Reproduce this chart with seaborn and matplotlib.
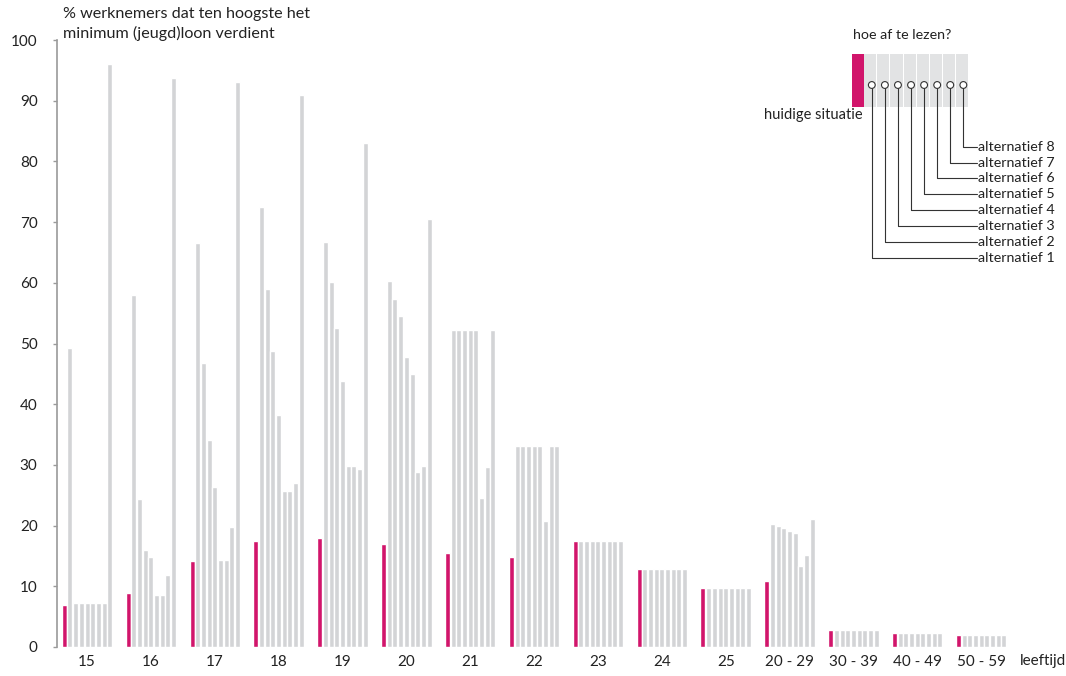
import matplotlib
matplotlib.use("Agg")
import matplotlib.pyplot as plt
from matplotlib.patches import Rectangle, Circle
import seaborn as sns
import pandas as pd

RED = "#D1156B"
GREY = "#D3D4D6"

groups = ["15", "16", "17", "18", "19", "20", "21", "22", "23", "24", "25",
          "20 - 29", "30 - 39", "40 - 49", "50 - 59"]

huidige_situatie = [7.0, 8.9, 14.1, 17.5, 18.0, 16.9, 15.5, 14.9, 17.4, 12.9, 9.7, 10.9, 2.8, 2.3, 2.0]
alternatief_1 = [49.2, 58.0, 66.5, 72.5, 66.7, 60.3, 52.3, 33.1, 17.4, 12.9, 9.7, 20.2, 2.8, 2.3, 2.0]
alternatief_2 = [7.2, 24.3, 46.8, 58.9, 60.2, 57.4, 52.3, 33.1, 17.4, 12.9, 9.7, 19.9, 2.8, 2.3, 2.0]
alternatief_3 = [7.2, 16.0, 34.1, 48.8, 52.6, 54.5, 52.3, 33.1, 17.4, 12.9, 9.7, 19.6, 2.8, 2.3, 2.0]
alternatief_4 = [7.2, 14.8, 26.3, 38.3, 43.8, 47.7, 52.3, 33.1, 17.4, 12.9, 9.7, 19.1, 2.8, 2.3, 2.0]
alternatief_5 = [7.2, 8.5, 14.4, 25.7, 29.8, 45.0, 52.3, 33.1, 17.4, 12.9, 9.7, 18.8, 2.8, 2.3, 2.0]
alternatief_6 = [7.2, 8.5, 14.4, 25.7, 29.8, 28.8, 24.6, 20.8, 17.4, 12.9, 9.7, 13.4, 2.8, 2.3, 2.0]
alternatief_7 = [7.2, 11.8, 19.7, 27.0, 29.3, 29.9, 29.6, 33.1, 17.4, 12.9, 9.7, 15.2, 2.8, 2.3, 2.0]
alternatief_8 = [96.0, 93.8, 93.0, 91.0, 83.0, 70.5, 52.3, 33.1, 17.4, 12.9, 9.7, 21.1, 2.8, 2.3, 2.0]


def main():
    series = {
        "huidige situatie": huidige_situatie,
        "alternatief 1": alternatief_1,
        "alternatief 2": alternatief_2,
        "alternatief 3": alternatief_3,
        "alternatief 4": alternatief_4,
        "alternatief 5": alternatief_5,
        "alternatief 6": alternatief_6,
        "alternatief 7": alternatief_7,
        "alternatief 8": alternatief_8,
    }
    rows = []
    for name, vals in series.items():
        for g, v in zip(groups, vals):
            rows.append({"leeftijd": g, "reeks": name, "pct": v})
    df = pd.DataFrame(rows)

    sns.set_theme(style="white")
    plt.rcParams["font.family"] = ["Lato", "DejaVu Sans"]
    txt = "#222222"

    fig = plt.figure(figsize=(10.66, 6.76), dpi=100)
    ax = fig.add_axes([57 / 1066, 29 / 676, 958 / 1066, 607 / 676])
    sns.barplot(data=df, x="leeftijd", y="pct", hue="reeks", order=groups,
                hue_order=list(series), palette=[RED] + [GREY] * 8,
                width=0.8, gap=0.12, saturation=1, errorbar=None,
                legend=False, ax=ax)

    ax.set_xlim(-0.47, 14.53)
    ax.set_ylim(0, 100)
    ax.set_yticks(range(0, 101, 10))
    ax.set_xlabel("")
    ax.set_ylabel("")
    sns.despine(ax=ax, bottom=True)
    ax.spines["left"].set_color("#9a9a9a")
    ax.spines["left"].set_linewidth(1.2)
    ax.tick_params(axis="y", left=True, length=3, width=1, color="#9a9a9a",
                   pad=11, labelsize=11, labelcolor=txt)
    ax.tick_params(axis="x", length=0, pad=6, labelsize=11, labelcolor=txt)

    fig.text(63 / 1066, 1 - 7 / 676,
             "% werknemers dat ten hoogste het\nminimum (jeugd)loon verdient",
             ha="left", va="top", fontsize=11.6, linespacing=1.38, color=txt)
    fig.text(1020 / 1066, 1 - 661 / 676, "leeftijd", ha="left", va="center",
             fontsize=11, color=txt)

    # uitleg "hoe af te lezen?" in pixelcoordinaten
    lg = fig.add_axes([0, 0, 1, 1], zorder=5)
    lg.set_xlim(0, 1066)
    lg.set_ylim(676, 0)
    lg.axis("off")
    lg.patch.set_alpha(0)

    lg.text(853, 35, "hoe af te lezen?", ha="left", va="center", fontsize=10.3, color=txt)
    lg.add_patch(Rectangle((852, 54), 12, 53, color=RED, lw=0))
    for i in range(8):
        x0 = 864.3 + 13.08 * i
        lg.add_patch(Rectangle((x0, 54), 12.1, 53, color="#E2E3E4", lw=0))
        cx = x0 + 7.5
        yl = 257.7 - 15.86 * i
        lg.plot([cx, cx, 976.5], [85, yl, yl], color="#333333", lw=0.8, zorder=3)
        lg.add_patch(Circle((cx, 85), 3.4, facecolor="white", edgecolor="#333333",
                            lw=0.8, zorder=4))
        lg.text(978.5, yl, "alternatief %d" % (i + 1), ha="left", va="center",
                fontsize=10.3, color=txt)
    lg.text(863, 115, "huidige situatie", ha="right", va="center", fontsize=10.5, color=txt)

    fig.savefig("out.png", dpi=100)


if __name__ == '__main__':
    main()
